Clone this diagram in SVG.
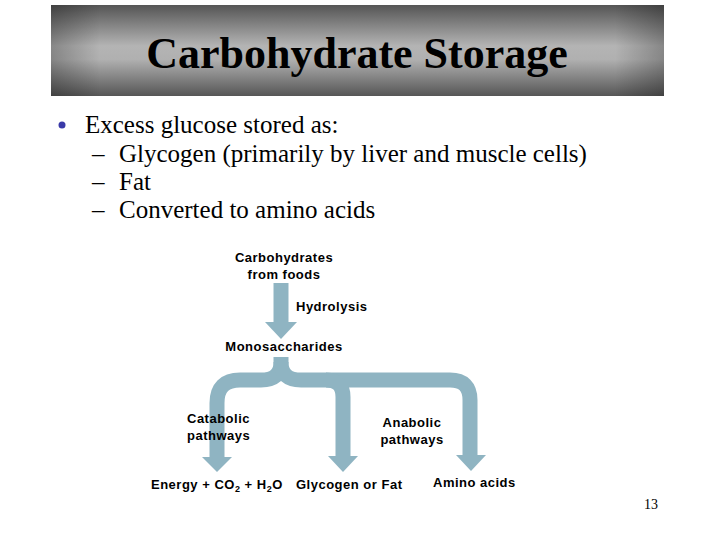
<svg xmlns="http://www.w3.org/2000/svg" width="720" height="540" viewBox="0 0 720 540">
<defs>
<linearGradient id="tg" x1="0" y1="0" x2="0" y2="1">
<stop offset="0" stop-color="#555"/>
<stop offset="0.45" stop-color="#b4b4b4"/>
<stop offset="0.6" stop-color="#b0b0b0"/>
<stop offset="1" stop-color="#565656"/>
</linearGradient>
<linearGradient id="th" x1="0" y1="0" x2="1" y2="0">
<stop offset="0" stop-color="#000" stop-opacity="0.25"/>
<stop offset="0.08" stop-color="#000" stop-opacity="0"/>
<stop offset="0.92" stop-color="#000" stop-opacity="0"/>
<stop offset="1" stop-color="#000" stop-opacity="0.25"/>
</linearGradient>
</defs>
<style>
.s{fill:none;stroke:#8fb4c2;stroke-width:15}
.h{fill:#8fb4c2}
.l{font-family:"Liberation Sans",Arial,sans-serif;font-size:13px;font-weight:bold;letter-spacing:0.5px;fill:#000}
.b{font-family:"Liberation Serif","Times New Roman",serif;font-size:25px;fill:#000}
</style>
<rect width="720" height="540" fill="#fff"/>
<g id="title">
<rect x="51" y="5" width="613" height="91" fill="url(#tg)"/>
<rect x="51" y="5" width="613" height="91" fill="url(#th)"/>
<text x="357" y="68" text-anchor="middle" font-family="'Liberation Serif','Times New Roman',serif" font-size="44" font-weight="bold">Carbohydrate Storage</text>
</g>
<g id="bullets">
<circle cx="62" cy="125" r="3.5" fill="#3a3aa8"/>
<text class="b" x="85" y="133">Excess glucose stored as:</text>
<text class="b" x="92" y="162">–</text>
<text class="b" x="119" y="162">Glycogen (primarily by liver and muscle cells)</text>
<text class="b" x="92" y="190">–</text>
<text class="b" x="119" y="190">Fat</text>
<text class="b" x="92" y="218">–</text>
<text class="b" x="119" y="218">Converted to amino acids</text>
</g>
<g id="connectors">
<path class="s" d="M281,283 V323"/>
<polygon class="h" points="265,322 297,322 281,339"/>
<path class="s" d="M281,357 V362 Q281,380 261,380 H240 Q217,380 217,403 V458"/>
<path class="s" d="M281,362 Q281,380 301,380 H450 Q470,380 470,400 V456"/>
<path class="s" d="M326,380 Q343,380 343,397 V458"/>
<polygon class="h" points="202,457 232,457 217,472"/>
<polygon class="h" points="328,456 358,456 343,472"/>
<polygon class="h" points="456,455 486,455 471,471"/>
</g>
<g id="n-carbs"><text class="l" x="284" y="262" text-anchor="middle">Carbohydrates</text><text class="l" x="284" y="279" text-anchor="middle">from foods</text></g>
<g id="n-hydrolysis"><text class="l" x="296" y="311">Hydrolysis</text></g>
<g id="n-mono"><text class="l" x="284" y="351" text-anchor="middle">Monosaccharides</text></g>
<g id="n-catabolic"><text class="l" x="187" y="423">Catabolic</text><text class="l" x="187" y="440">pathways</text></g>
<g id="n-anabolic"><text class="l" x="412" y="427" text-anchor="middle">Anabolic</text><text class="l" x="412" y="444" text-anchor="middle">pathways</text></g>
<g id="n-energy"><text class="l" x="151" y="489">Energy + CO<tspan font-size="9" dy="3">2</tspan><tspan dy="-3"> + H</tspan><tspan font-size="9" dy="3">2</tspan><tspan dy="-3">O</tspan></text></g>
<g id="n-glycogen"><text class="l" x="296" y="489">Glycogen or Fat</text></g>
<g id="n-amino"><text class="l" x="433" y="487">Amino acids</text></g>
<text x="651" y="509" text-anchor="middle" font-family="'Liberation Serif','Times New Roman',serif" font-size="14">13</text>
</svg>
